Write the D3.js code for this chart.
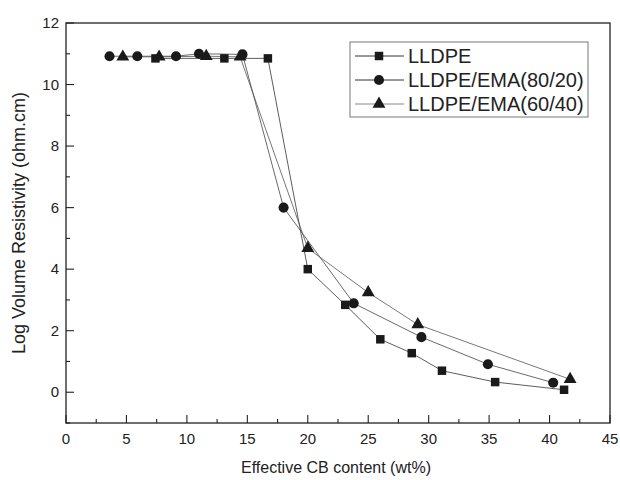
<!DOCTYPE html>
<html>
<head>
<meta charset="utf-8">
<script src="https://cdn.jsdelivr.net/npm/d3@7"></script>
<style>
  body { margin: 0; background: #fff; }
  text { font-family: "Liberation Sans", Arial, sans-serif; fill: #222; }
</style>
</head>
<body>
<svg id="chart" width="620" height="480"></svg>
<script>
// values
const lldpeX = [7.4, 13.1, 16.7, 20.0, 23.1, 26.0, 28.6, 31.1, 35.5, 41.2];
const lldpeY = [10.85, 10.85, 10.85, 4.0, 2.84, 1.72, 1.27, 0.70, 0.33, 0.08];

const ema80X = [3.6, 5.9, 9.1, 11.0, 14.6, 18.0, 23.8, 29.4, 34.9, 40.3];
const ema80Y = [10.92, 10.92, 10.92, 11.0, 10.98, 6.0, 2.89, 1.79, 0.91, 0.31];

const ema60X = [4.7, 7.7, 11.6, 14.4, 20.0, 25.0, 29.1, 41.7];
const ema60Y = [10.9, 10.9, 10.92, 10.9, 4.68, 3.24, 2.2, 0.42];

const seriesNames = ["LLDPE", "LLDPE/EMA(80/20)", "LLDPE/EMA(60/40)"];
const xTickLabels = [0, 5, 10, 15, 20, 25, 30, 35, 40, 45];
const yTickLabels = [0, 2, 4, 6, 8, 10, 12];

const series = [
    { name: seriesNames[0], xs: lldpeX, ys: lldpeY, sym: d3.symbolSquare, size: 72, line: "#333" },
    { name: seriesNames[1], xs: ema80X, ys: ema80Y, sym: d3.symbolCircle, size: 80, line: "#444" },
    { name: seriesNames[2], xs: ema60X, ys: ema60Y, sym: d3.symbolTriangle, size: 72, line: "#555" }
];

const svg = d3.select("#chart");
const pLeft = 66, pRight = 610, pTop = 23, pBottom = 423;

const x = d3.scaleLinear().domain([0, 45]).range([pLeft, pRight]);
const y = d3.scaleLinear().domain([-1, 12]).range([pBottom, pTop]);

// frame
svg.append("rect")
    .attr("x", pLeft).attr("y", pTop)
    .attr("width", pRight - pLeft).attr("height", pBottom - pTop)
    .attr("fill", "none").attr("stroke", "#222").attr("stroke-width", 1.3);

// ticks (inward)
const xMinor = d3.range(0, 45.01, 2.5);
svg.append("g").selectAll("line").data(xMinor).join("line")
    .attr("x1", d => x(d)).attr("x2", d => x(d))
    .attr("y1", pBottom)
    .attr("y2", d => pBottom - (d % 5 === 0 ? 8 : 4))
    .attr("stroke", "#222").attr("stroke-width", 1.1);

const yMinor = d3.range(-1, 12.01, 1);
svg.append("g").selectAll("line").data(yMinor).join("line")
    .attr("y1", d => y(d)).attr("y2", d => y(d))
    .attr("x1", pLeft)
    .attr("x2", d => pLeft + (d % 2 === 0 ? 8 : 4))
    .attr("stroke", "#222").attr("stroke-width", 1.1);

svg.append("g").selectAll("text").data(xTickLabels).join("text")
    .attr("x", d => x(d)).attr("y", pBottom + 21)
    .attr("text-anchor", "middle").attr("font-size", 15)
    .text(d => d);

svg.append("g").selectAll("text").data(yTickLabels).join("text")
    .attr("x", pLeft - 7).attr("y", d => y(d) + 5)
    .attr("text-anchor", "end").attr("font-size", 15)
    .text(d => d);

svg.append("text")
    .attr("x", (pLeft + pRight) / 2 - 2).attr("y", 473)
    .attr("text-anchor", "middle").attr("font-size", 16)
    .text("Effective CB content (wt%)");

svg.append("text")
    .attr("transform", `translate(25, ${(pTop + pBottom) / 2}) rotate(-90)`)
    .attr("text-anchor", "middle").attr("font-size", 18)
    .text("Log Volume Resistivity (ohm.cm)");

// lines + markers
const line = d3.line().x(d => x(d[0])).y(d => y(d[1]));

series.forEach(s => {
    const pts = s.xs.map((v, i) => [v, s.ys[i]]);
    svg.append("path")
        .attr("d", line(pts))
        .attr("fill", "none").attr("stroke", s.line).attr("stroke-width", 0.8);
});

series.forEach(s => {
    const pts = s.xs.map((v, i) => [v, s.ys[i]]);
    svg.append("g").selectAll("path").data(pts).join("path")
        .attr("d", d3.symbol().type(s.sym).size(s.size))
        .attr("transform", d => `translate(${x(d[0])},${y(d[1])})`)
        .attr("fill", "#1a1a1a");
});

// legend
const lg = svg.append("g");
lg.append("rect")
    .attr("x", 350).attr("y", 42).attr("width", 238).attr("height", 75)
    .attr("fill", "#fff").attr("stroke", "#777").attr("stroke-width", 1);

series.forEach((s, i) => {
    const ly = 56 + i * 24;
    lg.append("line")
        .attr("x1", 355).attr("x2", 404).attr("y1", ly).attr("y2", ly)
        .attr("stroke", i === 2 ? "#888" : "#333").attr("stroke-width", 1);
    lg.append("path")
        .attr("d", d3.symbol().type(s.sym).size(s.size))
        .attr("transform", `translate(379,${ly})`)
        .attr("fill", "#1a1a1a");
    lg.append("text")
        .attr("x", 408).attr("y", ly + 7)
        .attr("font-size", 20)
        .text(s.name);
});
</script>
</body>
</html>
